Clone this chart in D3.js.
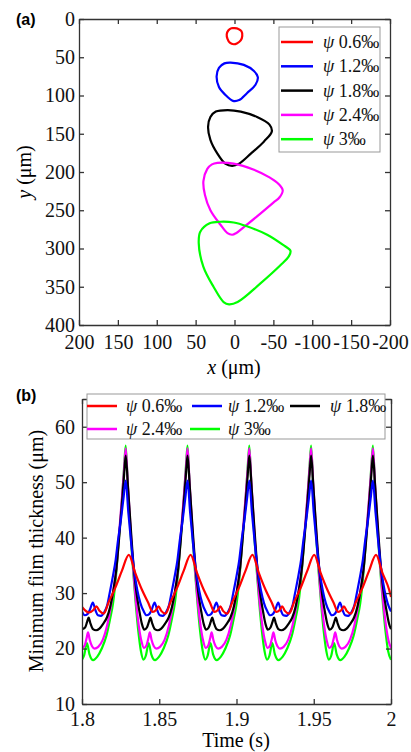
<!doctype html>
<html lang="en">
<head>
<meta charset="utf-8">
<title>Loops and minimum film thickness</title>
<script src="https://cdn.jsdelivr.net/npm/d3@7"></script>
<style>
  body { margin: 0; background: #fff; }
  svg { display: block; font-family: "Liberation Serif", "Times New Roman", serif; }
  .axis path, .axis line { stroke: #333; stroke-width: 1.3; }
  .axis text { font-family: "Liberation Serif", serif; font-size: 20px; fill: #111; }
</style>
</head>
<body>
<script>
var W = 411, H = 752;

var seriesNames = ["0.6", "1.2", "1.8", "2.4", "3"];
var seriesColors = ["#ff0000", "#0000ff", "#000000", "#ff00ff", "#00ff00"];

// (a) trajectories, [x, y] in um
var loopRed = [[0,12],[-5,13],[-9,16],[-10,22],[-8,28],[-3,32],[1,33],[6,31],[9,26],[10,20],[8,15],[4,12]];
var loopBlue = [[5,57],[-12,60],[-25,68],[-30,76],[-27,86],[-16,97],[-6,106],[2,107],[12,99],[20,89],[23,75],[20,64],[13,58]];
var loopBlack = [[9,119],[-8,121],[-29,128],[-45,138],[-48,147],[-38,160],[-21,176],[-6,189],[3,192],[12,189],[22,176],[31,158],[34,141],[31,128],[24,121]];
var loopMagenta = [[22,188],[1,189],[-25,197],[-45,207],[-57,216],[-62,224],[-58,233],[-50,240],[-29,258],[-12,272],[-2,280],[3,282],[9,280],[18,269],[31,250],[38,230],[40,212],[35,196],[29,190]];
var loopGreen = [[18,265],[1,266],[-16,271],[-42,282],[-62,295],[-72,303],[-70,310],[-59,322],[-33,346],[-4,370],[7,373],[14,370],[27,350],[40,324],[46,293],[44,278],[32,267]];

var xTicksA = [200, 150, 100, 50, 0, -50, -100, -150, -200];
var yTicksA = [0, 50, 100, 150, 200, 250, 300, 350, 400];

// (b) minimum film thickness, [time s, thickness um]
var filmRed = [
  [1.8,27.5],[1.8045,26.5],[1.8072,26.9],[1.8093,27.6],[1.8113,26.8],[1.814,26.3],[1.8173,28.4],[1.8213,30.8],[1.8258,34.0],
  [1.8303,36.9],[1.8345,33.6],[1.8388,30.6],[1.8428,28.3],[1.8458,26.6],[1.8478,26.9],[1.8495,27.6],[1.8513,26.8],[1.854,26.3],[1.8573,28.4],[1.8613,30.8],[1.8658,34.0],
  [1.8703,36.9],[1.8745,33.6],[1.8788,30.6],[1.8828,28.3],[1.8858,26.6],[1.8878,26.9],[1.8895,27.6],[1.8913,26.8],[1.894,26.3],[1.8973,28.4],[1.9013,30.8],[1.9058,34.0],
  [1.9103,36.9],[1.9145,33.6],[1.9188,30.6],[1.9228,28.3],[1.9258,26.6],[1.9278,26.9],[1.9295,27.6],[1.9313,26.8],[1.934,26.3],[1.9373,28.4],[1.9413,30.8],[1.9458,34.0],
  [1.9503,36.9],[1.9545,33.6],[1.9588,30.6],[1.9628,28.3],[1.9658,26.6],[1.9678,26.9],[1.9695,27.6],[1.9713,26.8],[1.974,26.3],[1.9773,28.4],[1.9813,30.8],[1.9858,34.0],
  [1.9903,36.9],[1.9945,33.6],[1.9988,30.6],[2.0,29.3]
];
var filmBlue = [
  [1.8,26.7],[1.8018,26.0],[1.8035,26.2],[1.8051,27.0],[1.807,28.3],[1.8087,26.9],[1.8103,26.0],[1.8123,25.9],[1.8143,26.5],[1.8163,27.8],[1.8179,30],[1.8203,33.5],[1.8218,36],[1.8233,39.5],[1.8253,43.5],[1.8268,47],
  [1.8283,50.3],[1.83,44.5],[1.832,38.5],[1.8338,34],[1.8358,30.5],[1.8378,28.2],[1.8398,26.8],[1.8418,26.0],[1.8435,26.2],[1.8451,27.0],[1.847,28.3],[1.8487,26.9],[1.8503,26.0],[1.8523,25.9],[1.8543,26.5],[1.8563,27.8],[1.8579,30],[1.8603,33.5],[1.8618,36],[1.8633,39.5],[1.8653,43.5],[1.8668,47],
  [1.8683,50.3],[1.87,44.5],[1.872,38.5],[1.8738,34],[1.8758,30.5],[1.8778,28.2],[1.8798,26.8],[1.8818,26.0],[1.8835,26.2],[1.8851,27.0],[1.887,28.3],[1.8887,26.9],[1.8903,26.0],[1.8923,25.9],[1.8943,26.5],[1.8963,27.8],[1.8979,30],[1.9003,33.5],[1.9018,36],[1.9033,39.5],[1.9053,43.5],[1.9068,47],
  [1.9083,50.3],[1.91,44.5],[1.912,38.5],[1.9138,34],[1.9158,30.5],[1.9178,28.2],[1.9198,26.8],[1.9218,26.0],[1.9235,26.2],[1.9251,27.0],[1.927,28.3],[1.9287,26.9],[1.9303,26.0],[1.9323,25.9],[1.9343,26.5],[1.9363,27.8],[1.9379,30],[1.9403,33.5],[1.9418,36],[1.9433,39.5],[1.9453,43.5],[1.9468,47],
  [1.9483,50.3],[1.95,44.5],[1.952,38.5],[1.9538,34],[1.9558,30.5],[1.9578,28.2],[1.9598,26.8],[1.9618,26.0],[1.9635,26.2],[1.9651,27.0],[1.967,28.3],[1.9687,26.9],[1.9703,26.0],[1.9723,25.9],[1.9743,26.5],[1.9763,27.8],[1.9779,30],[1.9803,33.5],[1.9818,36],[1.9833,39.5],[1.9853,43.5],[1.9868,47],
  [1.9883,50.3],[1.99,44.5],[1.992,38.5],[1.9938,34],[1.9958,30.5],[1.9978,28.2],[2.0,26.7]
];
var filmBlack = [
  [1.8,23.5],[1.802,23.8],[1.8033,24.8],[1.8043,25.6],[1.8055,24.5],[1.8071,23.5],[1.8091,23.3],[1.8113,23.6],[1.8138,24.5],[1.8161,25.6],[1.8183,27.6],[1.8203,30.5],[1.8223,34.5],[1.8239,39.5],[1.8258,46],[1.8273,51.5],
  [1.8283,54.8],[1.8298,49],[1.832,40],[1.8335,34.5],[1.8353,30],[1.8373,26.5],[1.8388,24.4],[1.8403,23.4],[1.842,23.8],[1.8433,24.8],[1.8443,25.6],[1.8455,24.5],[1.8471,23.5],[1.8491,23.3],[1.8513,23.6],[1.8538,24.5],[1.8561,25.6],[1.8583,27.6],[1.8603,30.5],[1.8623,34.5],[1.8639,39.5],[1.8658,46],[1.8673,51.5],
  [1.8683,54.8],[1.8698,49],[1.872,40],[1.8735,34.5],[1.8753,30],[1.8773,26.5],[1.8788,24.4],[1.8803,23.4],[1.882,23.8],[1.8833,24.8],[1.8843,25.6],[1.8855,24.5],[1.8871,23.5],[1.8891,23.3],[1.8913,23.6],[1.8938,24.5],[1.8961,25.6],[1.8983,27.6],[1.9003,30.5],[1.9023,34.5],[1.9039,39.5],[1.9058,46],[1.9073,51.5],
  [1.9083,54.8],[1.9098,49],[1.912,40],[1.9135,34.5],[1.9153,30],[1.9173,26.5],[1.9188,24.4],[1.9203,23.4],[1.922,23.8],[1.9233,24.8],[1.9243,25.6],[1.9255,24.5],[1.9271,23.5],[1.9291,23.3],[1.9313,23.6],[1.9338,24.5],[1.9361,25.6],[1.9383,27.6],[1.9403,30.5],[1.9423,34.5],[1.9439,39.5],[1.9458,46],[1.9473,51.5],
  [1.9483,54.8],[1.9498,49],[1.952,40],[1.9535,34.5],[1.9553,30],[1.9573,26.5],[1.9588,24.4],[1.9603,23.4],[1.962,23.8],[1.9633,24.8],[1.9643,25.6],[1.9655,24.5],[1.9671,23.5],[1.9691,23.3],[1.9713,23.6],[1.9738,24.5],[1.9761,25.6],[1.9783,27.6],[1.9803,30.5],[1.9823,34.5],[1.9839,39.5],[1.9858,46],[1.9873,51.5],
  [1.9883,54.8],[1.9898,49],[1.992,40],[1.9935,34.5],[1.9953,30],[1.9973,26.5],[1.9988,24.4],[2.0,23.5]
];
var filmMagenta = [
  [1.8,20.1],[1.8018,20.6],[1.803,21.9],[1.8039,22.9],[1.805,21.6],[1.8065,20.4],[1.8081,20.0],[1.8105,20.3],[1.8135,21.6],[1.8163,24.2],[1.8183,27],[1.8203,30.5],[1.8223,34.5],[1.8238,40],[1.8258,47],[1.8273,52.5],
  [1.8283,56.1],[1.8296,50],[1.8318,40],[1.8333,34],[1.8351,28],[1.8368,24],[1.8385,21.3],[1.8401,20.1],[1.8418,20.6],[1.843,21.9],[1.8439,22.9],[1.845,21.6],[1.8465,20.4],[1.8481,20.0],[1.8505,20.3],[1.8535,21.6],[1.8563,24.2],[1.8583,27],[1.8603,30.5],[1.8623,34.5],[1.8638,40],[1.8658,47],[1.8673,52.5],
  [1.8683,56.1],[1.8696,50],[1.8718,40],[1.8733,34],[1.8751,28],[1.8768,24],[1.8785,21.3],[1.8801,20.1],[1.8818,20.6],[1.883,21.9],[1.8839,22.9],[1.885,21.6],[1.8865,20.4],[1.8881,20.0],[1.8905,20.3],[1.8935,21.6],[1.8963,24.2],[1.8983,27],[1.9003,30.5],[1.9023,34.5],[1.9038,40],[1.9058,47],[1.9073,52.5],
  [1.9083,56.1],[1.9096,50],[1.9118,40],[1.9133,34],[1.9151,28],[1.9168,24],[1.9185,21.3],[1.9201,20.1],[1.9218,20.6],[1.923,21.9],[1.9239,22.9],[1.925,21.6],[1.9265,20.4],[1.9281,20.0],[1.9305,20.3],[1.9335,21.6],[1.9363,24.2],[1.9383,27],[1.9403,30.5],[1.9423,34.5],[1.9438,40],[1.9458,47],[1.9473,52.5],
  [1.9483,56.1],[1.9496,50],[1.9518,40],[1.9533,34],[1.9551,28],[1.9568,24],[1.9585,21.3],[1.9601,20.1],[1.9618,20.6],[1.963,21.9],[1.9639,22.9],[1.965,21.6],[1.9665,20.4],[1.9681,20.0],[1.9705,20.3],[1.9735,21.6],[1.9763,24.2],[1.9783,27],[1.9803,30.5],[1.9823,34.5],[1.9838,40],[1.9858,47],[1.9873,52.5],
  [1.9883,56.1],[1.9896,50],[1.9918,40],[1.9933,34],[1.9951,28],[1.9968,24],[1.9985,21.3],[2.0,20.1]
];
var filmGreen = [
  [1.8,18.0],[1.8013,18.7],[1.8032,21.0],[1.8048,19.0],[1.8073,17.9],[1.8098,18.5],[1.8128,20.0],[1.8158,22.3],[1.8183,25.5],[1.8201,28.2],[1.8223,34],[1.8239,40],[1.8259,47],[1.8273,53],
  [1.8283,56.6],[1.8295,50],[1.8316,40],[1.8331,34],[1.8348,28],[1.8365,23],[1.8381,19.6],[1.8398,18.0],[1.8413,18.7],[1.8432,21.0],[1.8448,19.0],[1.8473,17.9],[1.8498,18.5],[1.8528,20.0],[1.8558,22.3],[1.8583,25.5],[1.8601,28.2],[1.8623,34],[1.8639,40],[1.8659,47],[1.8673,53],
  [1.8683,56.6],[1.8695,50],[1.8716,40],[1.8731,34],[1.8748,28],[1.8765,23],[1.8781,19.6],[1.8798,18.0],[1.8813,18.7],[1.8832,21.0],[1.8848,19.0],[1.8873,17.9],[1.8898,18.5],[1.8928,20.0],[1.8958,22.3],[1.8983,25.5],[1.9001,28.2],[1.9023,34],[1.9039,40],[1.9059,47],[1.9073,53],
  [1.9083,56.6],[1.9095,50],[1.9116,40],[1.9131,34],[1.9148,28],[1.9165,23],[1.9181,19.6],[1.9198,18.0],[1.9213,18.7],[1.9232,21.0],[1.9248,19.0],[1.9273,17.9],[1.9298,18.5],[1.9328,20.0],[1.9358,22.3],[1.9383,25.5],[1.9401,28.2],[1.9423,34],[1.9439,40],[1.9459,47],[1.9473,53],
  [1.9483,56.6],[1.9495,50],[1.9516,40],[1.9531,34],[1.9548,28],[1.9565,23],[1.9581,19.6],[1.9598,18.0],[1.9613,18.7],[1.9632,21.0],[1.9648,19.0],[1.9673,17.9],[1.9698,18.5],[1.9728,20.0],[1.9758,22.3],[1.9783,25.5],[1.9801,28.2],[1.9823,34],[1.9839,40],[1.9859,47],[1.9873,53],
  [1.9883,56.6],[1.9895,50],[1.9916,40],[1.9931,34],[1.9948,28],[1.9965,23],[1.9981,19.6],[2.0,18.0]
];

var xTicksB = [1.8, 1.85, 1.9, 1.95, 2];
var yTicksB = [10, 20, 30, 40, 50, 60];

var loops = [loopRed, loopBlue, loopBlack, loopMagenta, loopGreen];
var films = [filmRed, filmBlue, filmBlack, filmMagenta, filmGreen];

var svg = d3.select("body").append("svg")
            .attr("width", W)
            .attr("height", H);

// draws the four-sided frame with inward ticks
function frame(g, x, y, xTicks, yTicks, xFmt, xPad, yPad) {
    var x0 = x.range()[0], x1 = x.range()[1];
    var yb = Math.max(y.range()[0], y.range()[1]);
    var yt = Math.min(y.range()[0], y.range()[1]);

    g.append("g").attr("class", "axis")
     .attr("transform", "translate(0," + yb + ")")
     .call(d3.axisBottom(x).tickValues(xTicks).tickSizeInner(-5).tickSizeOuter(0)
             .tickPadding(xPad).tickFormat(xFmt));
    g.append("g").attr("class", "axis")
     .attr("transform", "translate(0," + yt + ")")
     .call(d3.axisTop(x).tickValues(xTicks).tickSizeInner(-5).tickSizeOuter(0).tickFormat(""));
    g.append("g").attr("class", "axis")
     .attr("transform", "translate(" + x0 + ",0)")
     .call(d3.axisLeft(y).tickValues(yTicks).tickSizeInner(-5).tickSizeOuter(0)
             .tickPadding(yPad).tickFormat(d => String(d)));
    g.append("g").attr("class", "axis")
     .attr("transform", "translate(" + x1 + ",0)")
     .call(d3.axisRight(y).tickValues(yTicks).tickSizeInner(-5).tickSizeOuter(0).tickFormat(""));
    g.selectAll(".axis text").attr("font-size", "20px");
}

function legendEntry(g, i, lx, tx, ty, len) {
    g.append("line")
     .attr("x1", lx).attr("x2", lx + len)
     .attr("y1", ty).attr("y2", ty)
     .attr("stroke", seriesColors[i])
     .attr("stroke-width", 2.5);
    var t = g.append("text")
             .attr("x", tx).attr("y", ty + 6)
             .attr("font-size", "18px")
             .attr("fill", "#111");
    t.append("tspan").attr("font-style", "italic").text("\u03c8");
    t.append("tspan").text(" " + seriesNames[i] + "\u2030");
}

// ---------- panel (a) ----------
var xA = d3.scaleLinear().domain([200, -200]).range([79, 390]);
var yA = d3.scaleLinear().domain([0, 400]).range([19, 325]);
var gA = svg.append("g");

var loopLine = d3.line()
                 .x(d => xA(d[0]))
                 .y(d => yA(d[1]))
                 .curve(d3.curveCatmullRomClosed.alpha(0.5));

gA.selectAll("path.loop")
  .data(loops)
  .enter()
  .append("path")
  .attr("class", "loop")
  .attr("d", loopLine)
  .attr("fill", "none")
  .attr("stroke", (_, i) => seriesColors[i])
  .attr("stroke-width", 2.2);

frame(gA, xA, yA, xTicksA, yTicksA, d => String(d), 10, 4);

gA.append("rect")
  .attr("x", 279).attr("y", 27)
  .attr("width", 101).attr("height", 125)
  .attr("fill", "#fff")
  .attr("stroke", "#999")
  .attr("stroke-width", 1);
seriesNames.forEach(function(_, i) {
    legendEntry(gA, i, 281, 323, 42 + i * 24.3, 32);
});

gA.append("text")
  .attr("x", 234).attr("y", 374)
  .attr("text-anchor", "middle")
  .attr("font-size", "20px")
  .html('<tspan font-style="italic">x</tspan> (\u03bcm)');
gA.append("text")
  .attr("transform", "translate(31,172) rotate(-90)")
  .attr("text-anchor", "middle")
  .attr("font-size", "20px")
  .html('<tspan font-style="italic">y</tspan> (\u03bcm)');
gA.append("text")
  .attr("x", 16).attr("y", 25)
  .attr("font-family", "'Liberation Sans', Arial, sans-serif")
  .attr("font-weight", "bold")
  .attr("font-size", "16px")
  .text("(a)");

// ---------- panel (b) ----------
var xB = d3.scaleLinear().domain([1.8, 2.0]).range([82, 391]);
var yB = d3.scaleLinear().domain([10, 65]).range([704, 399]);
var gB = svg.append("g");

svg.append("clipPath").attr("id", "clipB")
   .append("rect")
   .attr("x", 82).attr("y", 399)
   .attr("width", 309).attr("height", 305);

var filmLine = d3.line()
                 .x(d => xB(d[0]))
                 .y(d => yB(d[1]))
                 .curve(d3.curveMonotoneX);

// draw order: green, magenta, black, blue, red on top
var drawOrder = [4, 3, 2, 1, 0];
gB.append("g")
  .attr("clip-path", "url(#clipB)")
  .selectAll("path")
  .data(drawOrder)
  .enter()
  .append("path")
  .attr("d", i => filmLine(films[i]))
  .attr("fill", "none")
  .attr("stroke", i => seriesColors[i])
  .attr("stroke-width", 2.2)
  .attr("stroke-linejoin", "round");

frame(gB, xB, yB, xTicksB, yTicksB, d => String(+d.toFixed(2)), 8, 7);

gB.append("rect")
  .attr("x", 87).attr("y", 394)
  .attr("width", 298).attr("height", 45)
  .attr("fill", "#fff")
  .attr("stroke", "#999")
  .attr("stroke-width", 1);
var legB = [[87, 126, 406], [192, 228, 406], [290, 330, 406], [87, 126, 429], [190, 228, 429]];
legB.forEach(function(p, i) {
    legendEntry(gB, i, p[0], p[1], p[2], 30);
});

gB.append("text")
  .attr("x", 236).attr("y", 747)
  .attr("text-anchor", "middle")
  .attr("font-size", "20px")
  .text("Time (s)");
gB.append("text")
  .attr("transform", "translate(43,551) rotate(-90)")
  .attr("text-anchor", "middle")
  .attr("font-size", "20px")
  .text("Minimum film thickness (\u03bcm)");
gB.append("text")
  .attr("x", 16).attr("y", 401)
  .attr("font-family", "'Liberation Sans', Arial, sans-serif")
  .attr("font-weight", "bold")
  .attr("font-size", "16px")
  .text("(b)");
</script>
</body>
</html>
